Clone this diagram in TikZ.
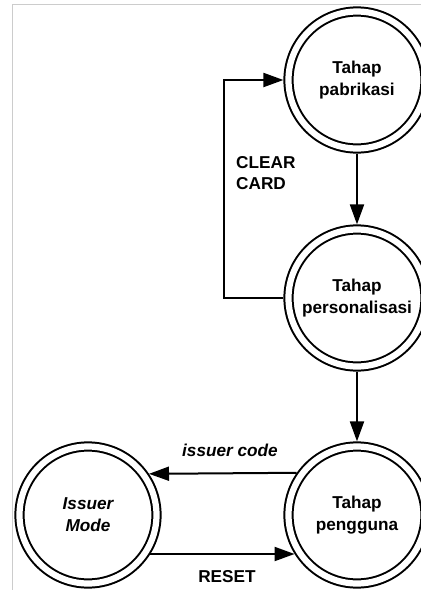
\documentclass[tikz,border=0pt]{standalone}
\usepackage{fontspec}
\setmainfont{Liberation Sans}
\usetikzlibrary{arrows.meta}
\begin{document}
\begin{tikzpicture}[x=1pt,y=-1pt,
  state/.style={circle, draw, line width=2pt, double=white, double distance=6.2pt,
    minimum size=137pt, inner sep=0pt, outer sep=5.1pt, align=center,
    font=\bfseries\fontsize{17.2}{22}\selectfont},
  arr/.style={line width=2pt, -{Triangle[length=20pt,width=14pt]}},
  lbl/.style={inner sep=0pt, font=\bfseries\fontsize{17.2}{21}\selectfont},
  frame/.style={draw=black!20, line width=1pt}]
\useasboundingbox (0,0) rectangle (421,590);
\clip (0,0) rectangle (421,590);
\draw[frame] (12,590) -- (12,4) -- (421,4);
\node[state] (pab) at (357,80) {Tahap\\pabrikasi};
\node[state] (per) at (357,298) {Tahap\\personalisasi};
\node[state] (pen) at (357,515) {Tahap\\pengguna};
\node[state, font=\bfseries\itshape\fontsize{17.2}{22}\selectfont] (iss) at (88,515) {Issuer\\Mode};
\coordinate (lx) at (224,0);
\draw[arr] (pab.south) -- (per.north);
\draw[arr] (per.south) -- (pen.north);
\draw[arr] (per.west) -- (per.west -| lx) -- (pab.west -| lx) -- (pab.west);
\draw[arr] (pen.145.4) -- (iss.34.6);
\draw[arr] (iss.-32.7) -- (pen.212.7);
\node[lbl, align=left, anchor=north west] (cc) at (236,156) {CLEAR\\CARD};
\node[lbl, font=\bfseries\itshape\fontsize{17.2}{21}\selectfont] (ic) at (230,450) {issuer code};
\node[lbl] (rs) at (227,577) {RESET};
\end{tikzpicture}
\end{document}
